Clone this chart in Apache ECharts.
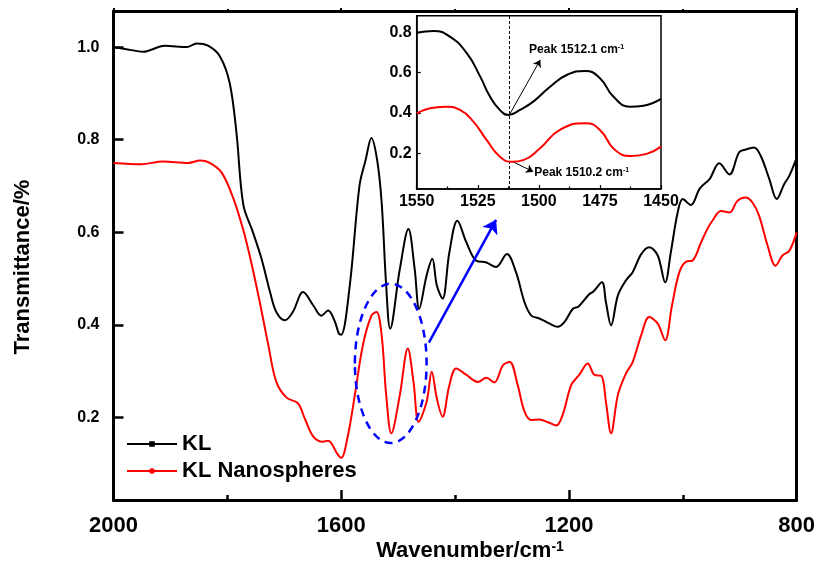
<!DOCTYPE html>
<html><head><meta charset="utf-8">
<script src="https://cdn.jsdelivr.net/npm/echarts@6/dist/echarts.min.js"></script>
<style>html,body{margin:0;padding:0;background:#fff}#c{width:818px;height:565px}</style>
</head><body><div id="c"></div>
<script>
// ---- data ----
const klWn = [2000,1975,1948,1910,1871,1854,1834,1813,1796,1784,1772,1755,1740,1725,1714,1699,1685,1667,1649,1635,1623,1612,1604,1600,1585,1568,1557,1547,1537,1529,1521,1514,1497,1482,1471,1463,1450,1440,1432,1422,1410,1396,1380,1363,1345,1328,1309,1293,1278,1266,1252,1234,1220,1208,1193,1183,1164,1158,1142,1135,1126,1114,1100,1088,1073,1059,1044,1031,1021,1009,1000,986,970,953,936,918,901,889,875,863,848,835,822,813,800];
const klT  = [1.0,0.995,0.99,1.003,1.0,1.008,1.003,0.98,0.923,0.815,0.66,0.60,0.543,0.471,0.428,0.41,0.428,0.471,0.442,0.42,0.431,0.41,0.381,0.379,0.485,0.70,0.757,0.804,0.757,0.665,0.485,0.392,0.521,0.607,0.521,0.435,0.507,0.543,0.485,0.457,0.557,0.625,0.578,0.539,0.535,0.525,0.553,0.514,0.449,0.42,0.414,0.403,0.396,0.406,0.435,0.44,0.467,0.471,0.492,0.449,0.399,0.464,0.496,0.514,0.553,0.568,0.55,0.492,0.557,0.643,0.672,0.659,0.695,0.715,0.749,0.725,0.773,0.779,0.783,0.765,0.715,0.672,0.704,0.722,0.761];
const nsWn = [2000,1951,1913,1869,1848,1831,1810,1790,1772,1758,1743,1728,1714,1696,1676,1664,1649,1632,1623,1606,1600,1588,1576,1562,1547,1538,1529,1521,1512,1497,1483,1473,1464,1450,1441,1432,1422,1410,1398,1380,1360,1345,1331,1316,1304,1290,1278,1266,1252,1237,1222,1211,1196,1182,1167,1155,1143,1135,1126,1114,1100,1088,1073,1059,1044,1031,1019,1006,994,983,968,957,948,933,918,904,890,878,866,851,837,825,813,800];
const nsT  = [0.75,0.747,0.753,0.75,0.755,0.75,0.729,0.675,0.605,0.535,0.449,0.356,0.277,0.243,0.231,0.198,0.159,0.148,0.15,0.12,0.113,0.163,0.249,0.356,0.42,0.428,0.378,0.249,0.166,0.249,0.349,0.277,0.191,0.234,0.299,0.241,0.202,0.27,0.306,0.292,0.277,0.286,0.276,0.313,0.32,0.27,0.213,0.195,0.196,0.19,0.183,0.206,0.27,0.292,0.317,0.292,0.29,0.234,0.166,0.249,0.295,0.32,0.378,0.417,0.403,0.367,0.442,0.514,0.537,0.539,0.578,0.607,0.625,0.646,0.643,0.668,0.675,0.665,0.636,0.571,0.528,0.55,0.56,0.60];
// inset (zoom 1550-1450)
const inKlWn = [1550,1543,1536.4,1529.5,1524,1520,1516,1512.5,1507.7,1502.3,1495.4,1488.6,1481,1475,1469.5,1462.7,1457.2,1450];
const inKlT  = [0.797,0.806,0.778,0.696,0.58,0.481,0.415,0.39,0.415,0.456,0.53,0.588,0.608,0.572,0.481,0.431,0.436,0.47];
const inNsWn = [1550,1544.6,1538.4,1532.3,1526.8,1521.4,1515.9,1511,1506.4,1499.5,1491.4,1481,1475,1468.8,1462,1455.9,1450];
const inNsT  = [0.398,0.423,0.431,0.415,0.357,0.266,0.183,0.158,0.166,0.225,0.316,0.349,0.316,0.216,0.187,0.197,0.233];
const mainYTicks = [0.2,0.4,0.6,0.8,1.0];
const insetYTicks = [0.2,0.4,0.6,0.8];
const seriesNames = ['KL','KL Nanospheres'];
const peakKL = 1512.1, peakNS = 1510.2;

const zip = (a,b)=>a.map((v,i)=>[v,b[i]]);
const FF = 'Liberation Sans, Arial, sans-serif';
const chart = echarts.init(document.getElementById('c'), null, {renderer:'canvas'});
const bold = (s)=>({fontFamily:FF,fontWeight:'bold',fontSize:s,color:'#000'});
const plain = v=>String(Math.round(v));

chart.setOption({
  animation:false,
  backgroundColor:'#fff',
  textStyle:{fontFamily:FF},
  grid:[
    {left:113.5, right:20, top:11, bottom:65, show:false},
    {left:416.7, right:157, top:15.7, bottom:376, show:true, borderColor:'#000', borderWidth:1.5, backgroundColor:'#fff', z:3}
  ],
  legend:{
    orient:'vertical', left:121, top:428, itemWidth:50, itemHeight:7, itemGap:5,
    textStyle:bold(22), data:seriesNames
  },
  xAxis:[
    {type:'value', gridIndex:0, min:800, max:2000, interval:400, inverse:true,
     axisLine:{show:true, lineStyle:{color:'#000', width:3}},
     axisTick:{show:true, inside:true, length:10, lineStyle:{color:'#000', width:2.5}},
     minorTick:{show:true, splitNumber:2, length:5, lineStyle:{color:'#000', width:2.5}},
     axisLabel:Object.assign({margin:15, formatter:plain}, bold(22)),
     splitLine:{show:false}},
    {type:'value', gridIndex:0, position:'top', min:800, max:2000, interval:400, inverse:true,
     axisLine:{show:true, lineStyle:{color:'#000', width:3}},
     axisTick:{show:true, inside:false, length:3, lineStyle:{color:'#000', width:2}},
     minorTick:{show:true, splitNumber:2, length:2, lineStyle:{color:'#000', width:2}},
     axisLabel:{show:false}, splitLine:{show:false}},
    {type:'value', gridIndex:1, min:1450, max:1550, interval:25, inverse:true, z:4,
     axisLine:{show:true, lineStyle:{color:'#000', width:1.5}},
     axisTick:{show:true, inside:true, length:4, lineStyle:{color:'#000', width:1.2}},
     minorTick:{show:true, splitNumber:2, length:2.5, lineStyle:{color:'#000', width:1.2}},
     axisLabel:Object.assign({margin:5, formatter:plain}, bold(16)),
     splitLine:{show:false}}
  ],
  yAxis:[
    {type:'value', gridIndex:0, min:0.022, max:1.078,
     axisLine:{show:true, lineStyle:{color:'#000', width:3}},
     axisTick:{show:true, inside:true, length:10, lineStyle:{color:'#000', width:2.5}, customValues:mainYTicks},
     axisLabel:Object.assign({margin:14, customValues:mainYTicks, formatter:v=>v.toFixed(1)}, bold(16)),
     splitLine:{show:false}},
    {type:'value', gridIndex:0, position:'right', min:0.022, max:1.078,
     axisLine:{show:true, lineStyle:{color:'#000', width:3}},
     axisTick:{show:false}, axisLabel:{show:false}, splitLine:{show:false}},
    {type:'value', gridIndex:1, min:0.023, max:0.882, z:4,
     axisLine:{show:true, lineStyle:{color:'#000', width:1.5}},
     axisTick:{show:true, inside:true, length:4, lineStyle:{color:'#000', width:1.2}, customValues:insetYTicks},
     axisLabel:Object.assign({margin:5, customValues:insetYTicks, formatter:v=>v.toFixed(1)}, bold(16)),
     splitLine:{show:false}}
  ],
  series:[
    {name:seriesNames[0], type:'line', xAxisIndex:0, yAxisIndex:0, data:zip(klWn,klT), smooth:0.35,
     showSymbol:false, symbol:'rect', symbolSize:5, color:'#000', lineStyle:{color:'#000', width:2}, z:2,
     markLine:{silent:true, symbol:['none','arrow'], symbolSize:13, label:{show:false},
       lineStyle:{color:'#0000ff', width:2.5, type:'solid'},
       data:[[{coord:[1446,0.362]},{coord:[1328,0.627]}]]}},
    {name:seriesNames[1], type:'line', xAxisIndex:0, yAxisIndex:0, data:zip(nsWn,nsT), smooth:0.35,
     showSymbol:false, symbol:'circle', symbolSize:5, color:'#ff0000', lineStyle:{color:'#ff0000', width:2}, z:2},
    {name:'inKL', type:'line', xAxisIndex:2, yAxisIndex:2, data:zip(inKlWn,inKlT), smooth:0.5,
     showSymbol:false, color:'#000', lineStyle:{color:'#000', width:2}, z:5,
     markLine:{silent:true, label:{show:false}, symbol:'none',
       data:[
         {xAxis:peakKL, lineStyle:{type:[3,2], color:'#000', width:1}},
         [{coord:[peakKL,0.39], symbol:'none'},{coord:[1499.4,0.663], symbol:'arrow', symbolSize:7, lineStyle:{color:'#000', width:1, type:'solid'}}]
       ]}},
    {name:'inNS', type:'line', xAxisIndex:2, yAxisIndex:2, data:zip(inNsWn,inNsT), smooth:0.5,
     showSymbol:false, color:'#ff0000', lineStyle:{color:'#ff0000', width:2}, z:5,
     markLine:{silent:true, label:{show:false}, symbol:'none',
       data:[
         [{coord:[1511,0.16], symbol:'none'},{coord:[1502.3,0.109], symbol:'arrow', symbolSize:7, lineStyle:{color:'#000', width:1, type:'solid'}}]
       ]}}
  ]
});

// annotations positioned via the chart's own coordinate system
const P0 = v=>chart.convertToPixel({xAxisIndex:0, yAxisIndex:0}, v);
const P2 = v=>chart.convertToPixel({xAxisIndex:2, yAxisIndex:2}, v);
const ec = P0([1513,0.317]), ex = P0([1513-63,0.317]), ey = P0([1513,0.317+0.172]);
const t1 = P2([1504.0,0.712]), t2 = P2([1501.9,0.104]);
const supRich = (fs)=>({a:{fontFamily:FF,fontWeight:'bold',fontSize:fs,fill:'#000'}, s:{fontFamily:FF,fontWeight:'bold',fontSize:Math.round(fs*0.62),fill:'#000',verticalAlign:'top'}});
chart.setOption({graphic:[
  {type:'ellipse', shape:{cx:ec[0], cy:ec[1], rx:Math.abs(ex[0]-ec[0]), ry:Math.abs(ey[1]-ec[1])},
   style:{fill:'none', stroke:'#0000ff', lineWidth:2.5, lineDash:[8,6]}, z:10, silent:true},
  {type:'text', x:t1[0], y:t1[1], z:10, silent:true,
   style:{text:'{a|Peak '+peakKL.toFixed(1)+' cm}{s|-1}', rich:supRich(12), verticalAlign:'middle', align:'left'}},
  {type:'text', x:t2[0], y:t2[1], z:10, silent:true,
   style:{text:'{a|Peak '+peakNS.toFixed(1)+' cm}{s|-1}', rich:supRich(12), verticalAlign:'middle', align:'left'}},
  {type:'text', x:470, y:551, z:10, silent:true,
   style:{text:'{a|Wavenumber/cm}{s|-1}', rich:supRich(22), align:'center', verticalAlign:'middle'}},
  {type:'text', x:23, y:267, rotation:Math.PI/2, z:10, silent:true,
   style:{text:'Transmittance/%', font:'bold 22px '+FF, fill:'#000', align:'center', verticalAlign:'middle'}}
]});
</script></body></html>
